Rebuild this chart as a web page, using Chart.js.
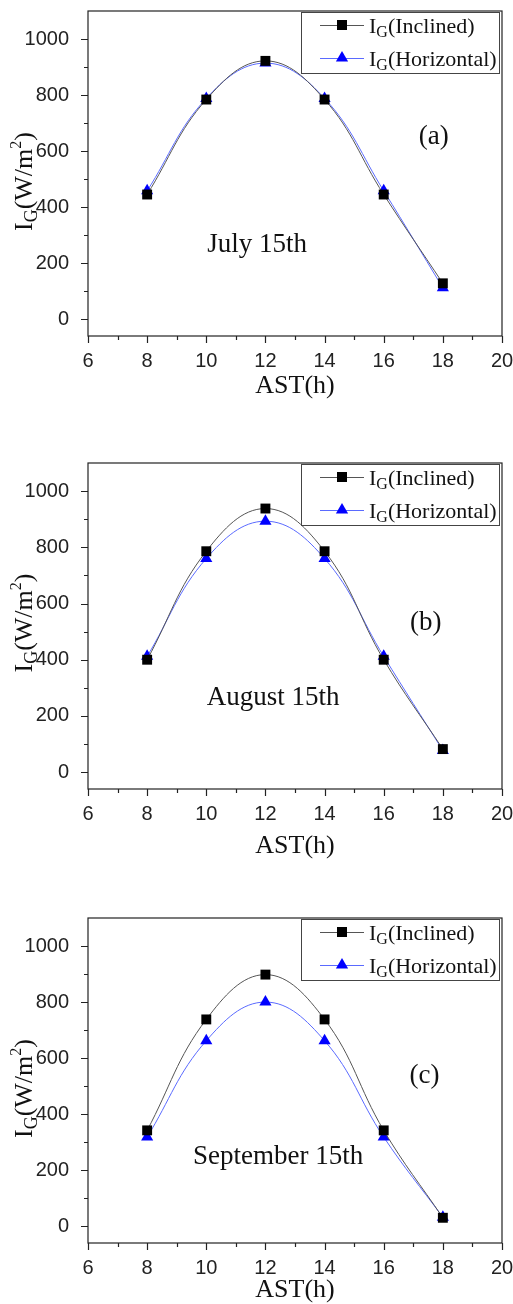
<!DOCTYPE html>
<html>
<head>
<meta charset="utf-8">
<script src="https://cdn.jsdelivr.net/npm/chart.js@4/dist/chart.umd.min.js"></script>
<style>
body { margin: 0; background: #fff; width: 513px; height: 1304px; overflow: hidden; position: relative; }
canvas { position: absolute; left: 0; }
</style>
</head>
<body>
<canvas id="c1" width="513" height="440" style="top:0"></canvas>
<canvas id="c2" width="513" height="440" style="top:440px"></canvas>
<canvas id="c3" width="513" height="424" style="top:880px"></canvas>
<script>
// data
const hours = [8, 10, 12, 14, 16, 18];
const julyInclined = [445, 784, 922, 784, 445, 128];
const julyHorizontal = [458, 788, 914, 788, 458, 112];
const augInclined = [400, 786, 938, 786, 400, 82];
const augHorizontal = [412, 760, 893, 760, 412, 77];
const sepInclined = [342, 738, 898, 738, 342, 30];
const sepHorizontal = [318, 662, 800, 662, 318, 32];
const xTicks = [6, 8, 10, 12, 14, 16, 18, 20];
const yTicks = [0, 200, 400, 600, 800, 1000];

const SERIF = '"Liberation Serif", "DejaVu Serif", serif';
const SANS = '"Liberation Sans", Arial, sans-serif';
const incColor = '#555555', horColor = '#5a6aff';

function rich(ctx, parts, x, y) {
  // parts: [text, size, dy]; drawn centered on x, baseline y
  let w = 0;
  parts.forEach(p => { ctx.font = p[1] + 'px ' + SERIF; w += ctx.measureText(p[0]).width; });
  let cx = x - w / 2;
  ctx.textAlign = 'left';
  ctx.textBaseline = 'alphabetic';
  parts.forEach(p => {
    ctx.font = p[1] + 'px ' + SERIF;
    ctx.fillText(p[0], cx, y + p[2]);
    cx += ctx.measureText(p[0]).width;
  });
}

function marker(ctx, kind, x, y) {
  ctx.beginPath();
  if (kind === 'rect') {
    ctx.rect(x - 5, y - 5, 10, 10);
    ctx.fillStyle = '#000';
  } else {
    ctx.moveTo(x, y - 7);
    ctx.lineTo(x + 6.1, y + 3.5);
    ctx.lineTo(x - 6.1, y + 3.5);
    ctx.closePath();
    ctx.fillStyle = '#0000ff';
  }
  ctx.fill();
}

function makeChart(id, inc, hor, p) {
  const canvas = document.getElementById(id);
  const panelPlugin = {
    id: 'panel',
    afterDraw(chart) {
      const ctx = chart.ctx, a = chart.chartArea;
      const x = chart.scales.x, y = chart.scales.y;
      ctx.save();
      ctx.strokeStyle = '#222';
      ctx.lineWidth = 1.2;
      ctx.strokeRect(a.left, a.top, a.right - a.left, a.bottom - a.top);
      ctx.beginPath();
      for (let v = 0; v <= 1000; v += 100) {
        const py = Math.round(y.getPixelForValue(v)) + 0.5;
        ctx.moveTo(a.left - (v % 200 === 0 ? 7 : 4), py);
        ctx.lineTo(a.left, py);
      }
      for (let v = 6; v <= 20; v++) {
        const px = Math.round(x.getPixelForValue(v)) + 0.5;
        ctx.moveTo(px, a.bottom);
        ctx.lineTo(px, a.bottom + (v % 2 === 0 ? 7 : 4));
      }
      ctx.stroke();

      ctx.fillStyle = '#111';
      // axis titles
      rich(ctx, [['AST(h)', 26, 0]], (a.left + a.right) / 2, a.bottom + p.xTitle);
      ctx.save();
      ctx.translate(32, (a.top + a.bottom) / 2 + p.yTitle);
      ctx.rotate(-Math.PI / 2);
      rich(ctx, [['I', 26, 0], ['G', 18, 5], ['(W/m', 26, 0], ['2', 16, -11], [')', 26, 0]], 0, 0);
      ctx.restore();

      // annotations
      rich(ctx, [[p.letter, 27, 0]], x.getPixelForValue(p.letterAt[0]), y.getPixelForValue(p.letterAt[1]));
      rich(ctx, [[p.date, 27, 0]], x.getPixelForValue(p.dateAt[0]), y.getPixelForValue(p.dateAt[1]));

      // legend
      const bx = a.right - 201, by = a.top + 1, bw = 198, bh = 61;
      ctx.fillStyle = '#fff';
      ctx.fillRect(bx, by, bw, bh);
      ctx.strokeStyle = '#444';
      ctx.lineWidth = 1;
      ctx.strokeRect(bx + 0.5, by + 0.5, bw, bh);
      const rows = [[incColor, 'rect', '(Inclined)'], [horColor, 'tri', '(Horizontal)']];
      rows.forEach((r, i) => {
        const ry = by + 13 + i * 33;
        ctx.strokeStyle = r[0];
        ctx.lineWidth = 1;
        ctx.beginPath();
        ctx.moveTo(bx + 19, ry + 0.5);
        ctx.lineTo(bx + 63, ry + 0.5);
        ctx.stroke();
        marker(ctx, r[1], bx + 41, ry);
        ctx.fillStyle = '#111';
        ctx.font = '22px ' + SERIF;
        ctx.textAlign = 'left';
        ctx.textBaseline = 'alphabetic';
        let tx = bx + 68;
        ctx.fillText('I', tx, ry + 8);
        tx += ctx.measureText('I').width;
        ctx.font = '16px ' + SERIF;
        ctx.fillText('G', tx, ry + 12);
        tx += ctx.measureText('G').width;
        ctx.font = '22px ' + SERIF;
        ctx.fillText(r[2], tx, ry + 8);
      });
      ctx.restore();
    }
  };

  return new Chart(canvas, {
    type: 'line',
    data: {
      datasets: [{
        label: 'Inclined',
        data: hours.map((h, i) => ({ x: h, y: inc[i] })),
        borderColor: incColor,
        borderWidth: 1,
        pointStyle: 'rect',
        pointRadius: 7,
        pointBackgroundColor: '#000',
        pointBorderColor: '#000',
        pointBorderWidth: 0,
        tension: 0.4
      }, {
        label: 'Horizontal',
        data: hours.map((h, i) => ({ x: h, y: hor[i] })),
        borderColor: horColor,
        borderWidth: 1,
        pointStyle: 'triangle',
        pointRadius: 7,
        pointBackgroundColor: '#0000ff',
        pointBorderColor: '#0000ff',
        pointBorderWidth: 0,
        tension: 0.4
      }]
    },
    options: {
      responsive: false,
      animation: false,
      layout: { padding: { top: p.top, right: 0, left: 0, bottom: 0 } },
      plugins: { legend: { display: false }, tooltip: { enabled: false } },
      scales: {
        x: {
          type: 'linear',
          min: 6, max: 20,
          grid: { display: false },
          border: { display: false },
          afterBuildTicks: s => { s.ticks = xTicks.map(v => ({ value: v })); },
          afterFit: s => { s.height = canvas.height - p.bottom; s.paddingLeft = 0; s.paddingRight = 11; },
          ticks: { padding: 5, color: '#222', font: { family: SANS, size: 20 }, maxRotation: 0, callback: v => String(v) }
        },
        y: {
          min: -60, max: 1100,
          grid: { display: false },
          border: { display: false },
          afterBuildTicks: s => { s.ticks = yTicks.map(v => ({ value: v })); },
          afterFit: s => { s.width = 88; s.paddingTop = 0; s.paddingBottom = 0; },
          ticks: { padding: 11, color: '#222', font: { family: SANS, size: 20 }, callback: v => String(v) }
        }
      }
    },
    plugins: [panelPlugin]
  });
}

makeChart('c1', julyInclined, julyHorizontal, {
  top: 11, bottom: 336, xTitle: 57, yTitle: 8,
  letter: '(a)', letterAt: [17.69, 626], date: 'July 15th', dateAt: [11.72, 240]
});
makeChart('c2', augInclined, augHorizontal, {
  top: 23, bottom: 349, xTitle: 64, yTitle: -3,
  letter: '(b)', letterAt: [17.42, 507], date: 'August 15th', dateAt: [12.26, 240]
});
makeChart('c3', sepInclined, sepHorizontal, {
  top: 38, bottom: 363, xTitle: 54, yTitle: 8,
  letter: '(c)', letterAt: [17.38, 510], date: 'September 15th', dateAt: [12.43, 223]
});
</script>
</body>
</html>
